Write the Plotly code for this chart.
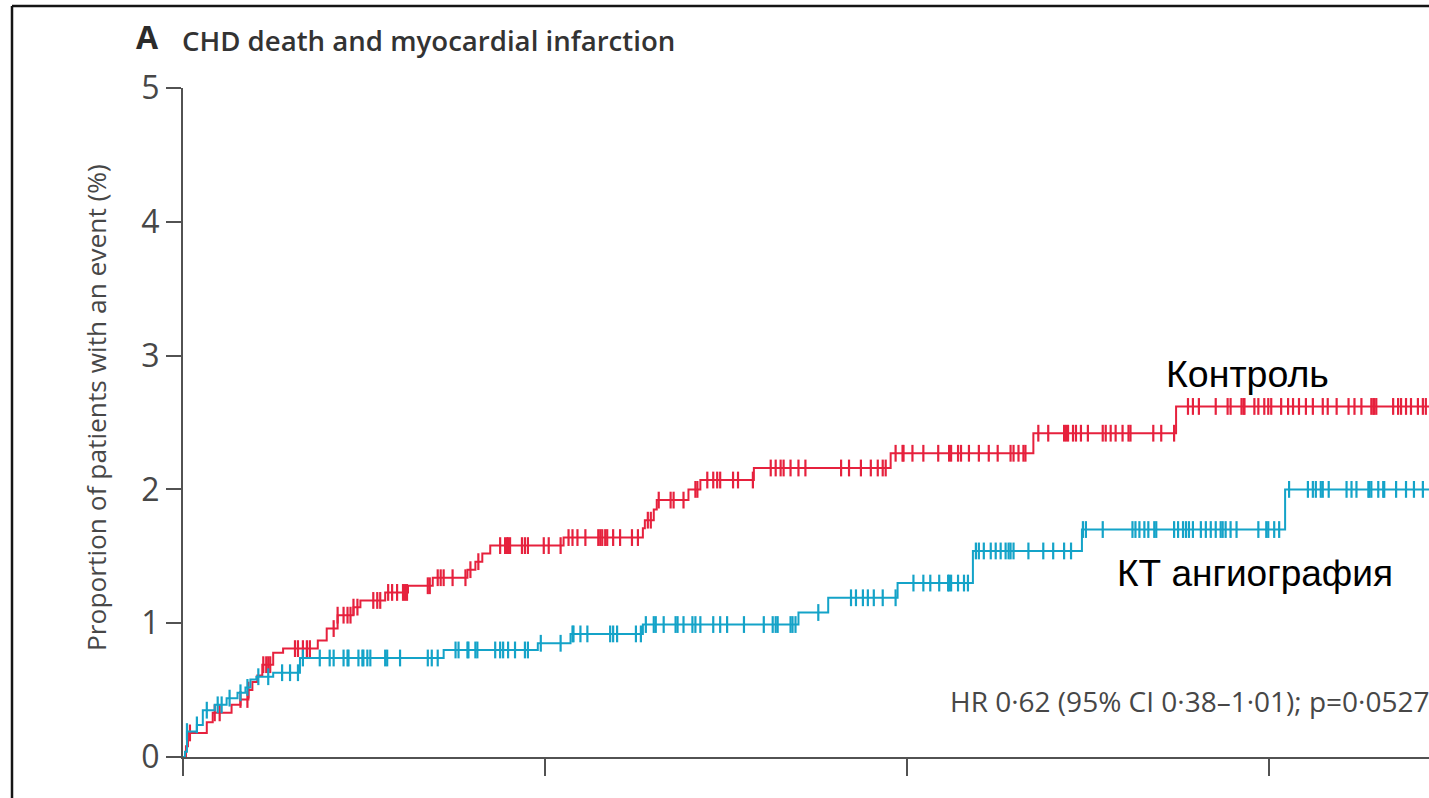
import numpy as np
import plotly.graph_objects as go

# Cumulative incidence of CHD death / myocardial infarction (%) by follow-up day
control_days = [0, 3, 5, 24, 30, 49, 58, 66, 70, 75, 80, 91, 101, 136, 145, 156, 172, 179,
                204, 227, 252, 287, 295, 302, 310, 384, 464, 466, 475, 478, 510, 522, 576,
                714, 858, 1002]
control_pct = [0, 0.08, 0.18, 0.26, 0.33, 0.39, 0.43, 0.50, 0.56, 0.61, 0.69, 0.78, 0.81, 0.87,
               0.96, 1.06, 1.12, 1.17, 1.23, 1.28, 1.34, 1.40, 1.46, 1.52, 1.58, 1.64, 1.71,
               1.77, 1.85, 1.92, 2.00, 2.07, 2.16, 2.27, 2.42, 2.62]

ct_days = [0, 2, 4, 14, 20, 32, 44, 55, 63, 68, 74, 91, 118, 263, 358, 391, 464, 621, 651,
           721, 797, 907, 1112]
ct_pct = [0, 0.04, 0.19, 0.24, 0.35, 0.39, 0.44, 0.48, 0.52, 0.58, 0.60, 0.63, 0.74, 0.80,
          0.85, 0.92, 0.99, 1.08, 1.19, 1.30, 1.54, 1.70, 2.00]

# Censored observations (days)
control_censor = [7, 32, 37, 58, 65, 66, 81, 84, 86, 88, 113, 116, 121, 125, 128, 152, 156, 162,
                  166, 169, 172, 176, 192, 196, 199, 207, 211, 216, 222, 224, 226, 247, 249, 257,
                  260, 263, 272, 285, 290, 298, 320, 325, 327, 328, 330, 342, 345, 348, 364, 369,
                  381, 389, 393, 398, 406, 419, 421, 423, 426, 428, 434, 441, 453, 459, 469, 472,
                  480, 492, 495, 505, 517, 519, 529, 535, 539, 542, 555, 560, 575, 593, 598, 603,
                  606, 613, 621, 628, 664, 672, 684, 694, 701, 706, 709, 719, 726, 727, 736, 747,
                  762, 773, 775, 782, 785, 793, 803, 813, 822, 835, 838, 843, 848, 850, 863, 873,
                  889, 891, 893, 898, 901, 906, 913, 928, 931, 936, 941, 948, 954, 956, 979, 987,
                  1000, 1014, 1019, 1025, 1042, 1054, 1057, 1068, 1070, 1071, 1081, 1085, 1091,
                  1095, 1098, 1108, 1115, 1120, 1126, 1133, 1140, 1150, 1155, 1164, 1176, 1182,
                  1189, 1199, 1201, 1202, 1204, 1221, 1226, 1229, 1234, 1239, 1246, 1251, 1254]
ct_censor = [4, 14, 24, 35, 39, 47, 58, 65, 76, 86, 100, 108, 116, 121, 138, 148, 152, 162, 166,
             167, 177, 181, 182, 186, 189, 204, 206, 219, 247, 251, 257, 275, 278, 287, 288, 295,
             297, 315, 320, 323, 328, 335, 345, 348, 361, 381, 393, 394, 401, 408, 431, 434, 438,
             457, 462, 467, 475, 477, 485, 497, 499, 505, 514, 517, 522, 535, 542, 549, 566, 586,
             595, 598, 600, 613, 615, 618, 641, 674, 679, 686, 691, 697, 706, 719, 737, 747, 754,
             763, 772, 773, 775, 782, 788, 792, 800, 803, 808, 815, 820, 825, 830, 833, 835, 838,
             853, 868, 878, 889, 896, 908, 911, 928, 958, 961, 965, 970, 974, 980, 982, 1000,
             1004, 1009, 1012, 1015, 1019, 1027, 1032, 1037, 1042, 1047, 1049, 1052, 1057, 1063,
             1085, 1093, 1095, 1101, 1106, 1116, 1135, 1140, 1143, 1148, 1150, 1156, 1174, 1179,
             1184, 1196, 1197, 1199, 1206, 1211, 1212, 1224, 1234, 1242, 1251]

followup_end = 1826
year_ticks = [0, 365.25, 730.5, 1095.75]

RED = "#E6213D"
BLUE = "#14A3C8"
AXIS = "#525252"
TEXT = "#474747"


def step_value(days, pct, t):
    idx = np.searchsorted(np.asarray(days), np.asarray(t), side="right") - 1
    return np.asarray(pct)[idx]


fig = go.Figure()
for days, pct, censor, color in [(control_days, control_pct, control_censor, RED),
                                 (ct_days, ct_pct, ct_censor, BLUE)]:
    fig.add_trace(go.Scatter(
        x=days + [followup_end], y=pct + [pct[-1]], mode="lines",
        line=dict(shape="hv", color=color, width=2), hoverinfo="skip", showlegend=False))
    fig.add_trace(go.Scatter(
        x=censor, y=step_value(days, pct, censor), mode="markers",
        marker=dict(symbol="line-ns", size=12, line=dict(color=color, width=2.2)),
        hoverinfo="skip", showlegend=False))

W, H = 1429, 798
L, T, B, R = 183, 88, 41, 0
pw, ph = W - L - R, H - T - B


def px(x):
    return (x - L) / pw


def py(y):
    return (H - B - y) / ph


annotations = [
    dict(text="A", x=px(134), y=py(60), xanchor="left", yanchor="bottom",
         font=dict(family="Open Sans", size=32, color="#2b2b2b", weight=700)),
    dict(text="CHD death and myocardial infarction", x=px(180), y=py(60.5),
         xanchor="left", yanchor="bottom",
         font=dict(family="Open Sans", size=27.6, color="#333333", weight=600)),
    dict(text="Proportion of patients with an event (%)", x=px(96), y=py(408),
         textangle=-90, xanchor="center", yanchor="middle",
         font=dict(family="Open Sans", size=26.3, color=TEXT)),
    dict(text="HR 0·62 (95% CI 0·38–1·01); p=0·0527", x=px(948), y=py(722),
         xanchor="left", yanchor="bottom",
         font=dict(family="Open Sans", size=28, color=TEXT)),
    dict(text="Контроль", x=px(1164), y=py(397), xanchor="left", yanchor="bottom",
         font=dict(family="Liberation Sans", size=37.5, color="#000000")),
    dict(text="КТ ангиография", x=px(1115), y=py(596), xanchor="left", yanchor="bottom",
         font=dict(family="Liberation Sans", size=37, color="#000000")),
]
for a in annotations:
    a.update(xref="paper", yref="paper", showarrow=False)

# Frame around the panel
shapes = [
    dict(type="line", xref="paper", yref="paper", x0=px(12), x1=px(W + 10), y0=py(6), y1=py(6),
         line=dict(color="#151515", width=2.5)),
    dict(type="line", xref="paper", yref="paper", x0=px(12), x1=px(12), y0=py(6), y1=py(H + 10),
         line=dict(color="#151515", width=2.5)),
]

fig.update_layout(
    width=W, height=H, margin=dict(l=L, r=R, t=T, b=B),
    paper_bgcolor="white", plot_bgcolor="white",
    annotations=annotations, shapes=shapes,
    xaxis=dict(range=[0, pw * 365.25 / 362], tickvals=year_ticks, showticklabels=False,
               ticks="outside", ticklen=17, tickwidth=2, tickcolor=AXIS,
               showline=True, linewidth=2, linecolor=AXIS, showgrid=False, zeroline=False),
    yaxis=dict(range=[0, 5], tickvals=[0, 1, 2, 3, 4, 5], ticks="outside", ticklen=15,
               tickwidth=2, tickcolor=AXIS, showline=True, linewidth=2, linecolor=AXIS,
               showgrid=False, zeroline=False,
               tickfont=dict(family="Open Sans", size=32, color=TEXT)),
)

fig.write_html("out.html")
